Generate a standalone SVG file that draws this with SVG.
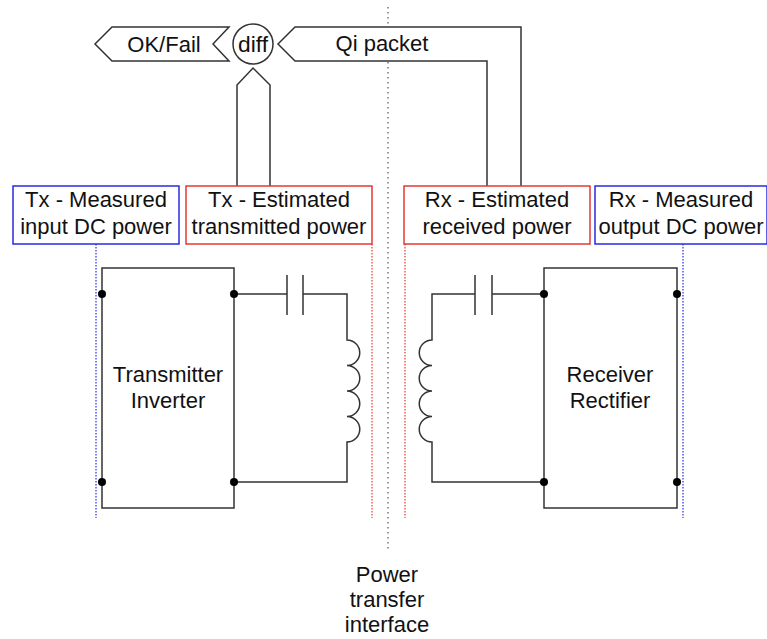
<svg xmlns="http://www.w3.org/2000/svg" width="767" height="639" viewBox="0 0 767 639">
<style>
text{font-family:"Liberation Sans",Arial,sans-serif;font-size:22px;fill:#111;text-anchor:middle}
.w{fill:none;stroke:#333;stroke-width:1.5}
.sh{fill:#fff;stroke:#333;stroke-width:1.5}
.rb{fill:#fff;stroke:#e53935;stroke-width:1.5}
.bb{fill:#fff;stroke:#2a2ae0;stroke-width:1.5}
.rd{stroke:#e53935;stroke-width:1.2;stroke-dasharray:1.5,1.5;fill:none}
.bd{stroke:#2a2ae0;stroke-width:1.2;stroke-dasharray:1.5,1.5;fill:none}
.gd{stroke:#777;stroke-width:1.5;stroke-dasharray:1.5,3.5;fill:none}
.dot{fill:#000}
</style>
<g id="interface">
<line class="gd" x1="388" y1="7" x2="388" y2="552"/>
<text x="387" y="582" font-size="21">Power</text>
<text x="387" y="607" font-size="21">transfer</text>
<text x="387" y="632" font-size="21">interface</text>
</g>
<g id="guides">
<line class="bd" x1="96" y1="244" x2="96" y2="518"/>
<line class="rd" x1="372" y1="244" x2="372" y2="518"/>
<line class="rd" x1="405" y1="244" x2="405" y2="518"/>
<line class="bd" x1="683" y1="244" x2="683" y2="518"/>
</g>
<g id="connectors">
<path class="sh" d="M237,187 V85 L253,68 L270,85 V187"/>
<path class="sh" d="M487,187 V61 H295 L278,44 L295,27 H521 V187"/>
<polygon class="sh" points="95,44 112,27 229,27 213,44 229,61 112,61"/>
</g>
<g id="okfail"><text x="164" y="52">OK/Fail</text></g>
<g id="qi"><text x="382" y="51">Qi packet</text></g>
<g id="diff">
<circle class="sh" cx="253" cy="44" r="20"/>
<text x="253" y="52" textLength="30" lengthAdjust="spacingAndGlyphs">diff</text>
</g>
<g id="tx-measured">
<rect class="bb" x="13" y="186" width="166" height="58"/>
<text x="96" y="207">Tx - Measured</text>
<text x="96" y="234">input DC power</text>
</g>
<g id="tx-estimated">
<rect class="rb" x="186" y="186" width="186" height="58"/>
<text x="279" y="207">Tx - Estimated</text>
<text x="279" y="234">transmitted power</text>
</g>
<g id="rx-estimated">
<rect class="rb" x="404" y="186" width="186" height="58"/>
<text x="497" y="207">Rx - Estimated</text>
<text x="497" y="234">received power</text>
</g>
<g id="rx-measured">
<rect class="bb" x="595" y="186" width="172" height="58"/>
<text x="681" y="207">Rx - Measured</text>
<text x="681" y="234">output DC power</text>
</g>
<g id="transmitter">
<rect class="w" x="102" y="268" width="132" height="240"/>
<text x="168" y="382">Transmitter</text>
<text x="168" y="408">Inverter</text>
<path class="w" d="M234,294 H287 M287,275 V315 M303,275 V315 M303,294 H347 V340 a12.75,12.75 0 0 1 0,25.5 a12.75,12.75 0 0 1 0,25.5 a12.75,12.75 0 0 1 0,25.5 a12.75,12.75 0 0 1 0,25.5 V482 H234"/>
<circle class="dot" cx="102" cy="294" r="4"/>
<circle class="dot" cx="234" cy="294" r="4"/>
<circle class="dot" cx="102" cy="482" r="4"/>
<circle class="dot" cx="234" cy="482" r="4"/>
</g>
<g id="receiver">
<rect class="w" x="544" y="268" width="133" height="240"/>
<text x="610" y="382">Receiver</text>
<text x="610" y="408">Rectifier</text>
<path class="w" d="M544,294 H492 M492,275 V315 M475,275 V315 M475,294 H432 V340 a12.75,12.75 0 0 0 0,25.5 a12.75,12.75 0 0 0 0,25.5 a12.75,12.75 0 0 0 0,25.5 a12.75,12.75 0 0 0 0,25.5 V482 H544"/>
<circle class="dot" cx="544" cy="294" r="4"/>
<circle class="dot" cx="677" cy="294" r="4"/>
<circle class="dot" cx="544" cy="482" r="4"/>
<circle class="dot" cx="677" cy="482" r="4"/>
</g>
</svg>
